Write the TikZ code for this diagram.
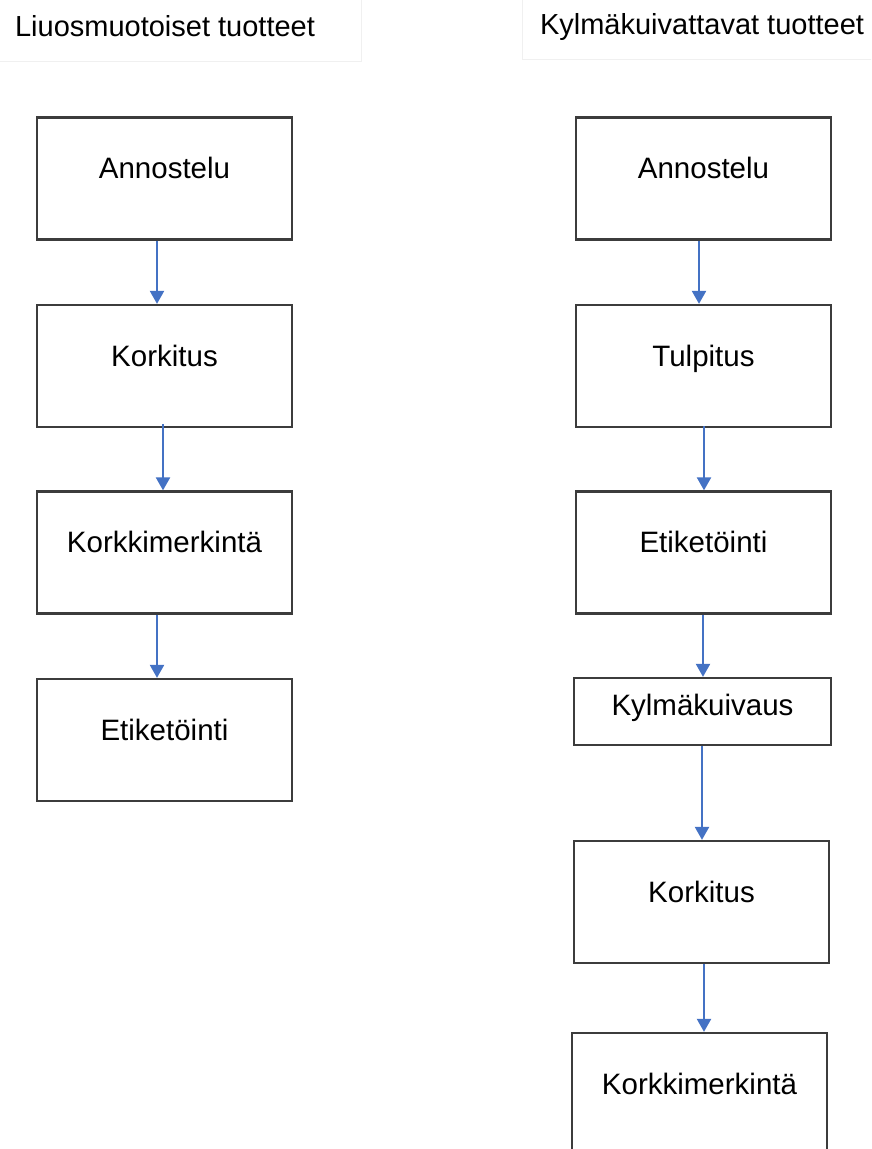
\documentclass[tikz,border=0pt]{standalone}
\usepackage{fontspec}
\setmainfont{Liberation Sans}
\usetikzlibrary{arrows.meta}
\definecolor{arrowblue}{HTML}{4472C4}
\definecolor{boxline}{HTML}{3C3C3C}
\definecolor{faintline}{HTML}{F0F0F0}
\tikzset{
  stepbox/.style={draw=boxline, line width=2.3pt, fill=white, rectangle, inner sep=0pt,
    minimum width=255pt, minimum height=122pt, text height=20pt, text depth=20pt,
    font=\fontsize{29.5}{34}\selectfont},
  smallbox/.style={stepbox, minimum width=257pt, minimum height=67pt, text height=22pt, text depth=15pt},
  titletext/.style={anchor=base, inner sep=0pt, font=\fontsize{29}{34}\selectfont},
  titleframe/.style={draw=faintline, line width=1pt},
  flow/.style={draw=arrowblue, line width=2.3pt, -{Triangle[width=14pt,length=13pt]}}
}
\begin{document}
\begin{tikzpicture}[x=1pt,y=-1pt]
\useasboundingbox (0,0) rectangle (871,1149);
\clip (0,0) rectangle (871,1149);
% faint title frames
\draw[titleframe] (-5,-5) rectangle (361,61);
\draw[titleframe] (522,-5) rectangle (876,59);
\node[titletext] (tl) at (165,36) {Liuosmuotoiset tuotteet};
\node[titletext] (tr) at (702,34) {Kylmäkuivattavat tuotteet};
% left column
\node[stepbox] (l1) at (164.5,178.5) {Annostelu};
\node[stepbox] (l2) at (164.5,366) {Korkitus};
\node[stepbox] (l3) at (164.5,552.5) {Korkkimerkintä};
\node[stepbox] (l4) at (164.5,740) {Etiketöinti};
% right column
\node[stepbox] (r1) at (703.5,178.5) {Annostelu};
\node[stepbox] (r2) at (703.5,366) {Tulpitus};
\node[stepbox] (r3) at (703.5,552.5) {Etiketöinti};
\node[smallbox] (r4) at (702.5,711.5) {Kylmäkuivaus};
\node[stepbox] (r5) at (701.5,902) {Korkitus};
\node[stepbox] (r6) at (699.5,1094) {Korkkimerkintä};
% connectors
\draw[flow] ([xshift=-7.5pt]l1.south) -- ([xshift=-7.5pt]l1.south |- l2.north);
\draw[flow] ([xshift=-1.5pt,yshift=4pt]l2.south) -- ([xshift=-1.5pt]l2.south |- l3.north);
\draw[flow] ([xshift=-7.5pt]l3.south) -- ([xshift=-7.5pt]l3.south |- l4.north);
\draw[flow] ([xshift=-4.5pt]r1.south) -- ([xshift=-4.5pt]r1.south |- r2.north);
\draw[flow] ([xshift=0.5pt,yshift=2pt]r2.south) -- ([xshift=0.5pt]r2.south |- r3.north);
\draw[flow] ([xshift=-0.5pt]r3.south) -- ([xshift=-0.5pt]r3.south |- r4.north);
\draw[flow] ([xshift=-0.5pt]r4.south) -- ([xshift=-0.5pt]r4.south |- r5.north);
\draw[flow] ([xshift=2.5pt]r5.south) -- ([xshift=2.5pt]r5.south |- r6.north);
\end{tikzpicture}
\end{document}
